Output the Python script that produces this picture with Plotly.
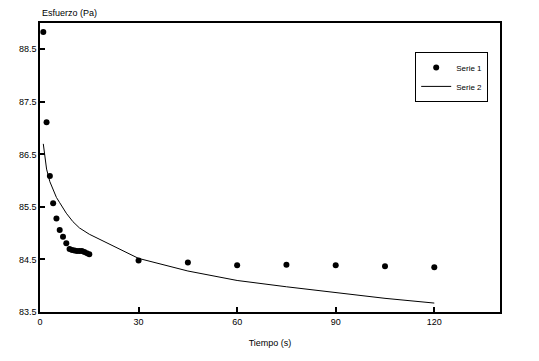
import plotly.graph_objects as go

# Serie 1 (points)
t1 = [1, 2, 3, 4, 5, 6, 7, 8, 9, 9.75, 10.5, 11.25, 12, 12.75, 13.5, 14.25, 15,
      30, 45, 60, 75, 90, 105, 120]
y1 = [88.83, 87.11, 86.09, 85.57, 85.28, 85.06, 84.93, 84.81, 84.70, 84.68, 84.67,
      84.66, 84.66, 84.66, 84.64, 84.62, 84.60,
      84.48, 84.44, 84.39, 84.40, 84.39, 84.37, 84.35]

# Serie 2 (line)
t2 = [1, 2, 3, 4, 5, 6, 8, 10, 12, 15, 30, 45, 60, 75, 90, 105, 120]
y2 = [86.70, 86.22, 85.98, 85.82, 85.68, 85.58, 85.38, 85.22, 85.10, 84.98,
      84.52, 84.28, 84.10, 83.98, 83.87, 83.76, 83.67]

x_ticks = [0, 30, 60, 90, 120]
y_ticks = [83.5, 84.5, 85.5, 86.5, 87.5, 88.5]

fig = go.Figure()
fig.add_trace(go.Scatter(x=t1, y=y1, mode="markers", name="Serie 1",
                         marker=dict(color="black", size=6)))
fig.add_trace(go.Scatter(x=t2, y=y2, mode="lines", name="Serie 2",
                         line=dict(color="black", width=1)))

axis_common = dict(showline=True, linecolor="black", linewidth=1.5, mirror=True,
                   ticks="inside", ticklen=5, tickcolor="black", tickwidth=1.5,
                   showgrid=False, zeroline=False, automargin=False,
                   tickfont=dict(family="Liberation Sans, Arial", size=9, color="black"))

fig.update_layout(
    width=531, height=353,
    margin=dict(l=32, r=39, t=15, b=49, autoexpand=False),
    paper_bgcolor="white", plot_bgcolor="white",
    font=dict(family="Liberation Sans, Arial", size=9, color="black"),
    xaxis=dict(range=[0, 140], tickvals=x_ticks, ticktext=[str(v) for v in x_ticks],
               title=dict(text="Tiempo (s)", font=dict(size=9), standoff=14), **axis_common),
    yaxis=dict(range=[83.5, 89.0], tickvals=y_ticks, ticktext=[f"{v:.1f}" for v in y_ticks],
               **axis_common),
    showlegend=True,
    legend=dict(x=0.895, y=0.90, xanchor="center", yanchor="top",
                bordercolor="black", borderwidth=1, bgcolor="white",
                font=dict(size=8), itemwidth=30, tracegroupgap=0),
    annotations=[dict(text="Esfuerzo (Pa)", xref="paper", yref="paper",
                      x=0, y=1, xanchor="left", yanchor="bottom", yshift=3,
                      showarrow=False, font=dict(size=9))],
)

fig.write_html("out.html")
